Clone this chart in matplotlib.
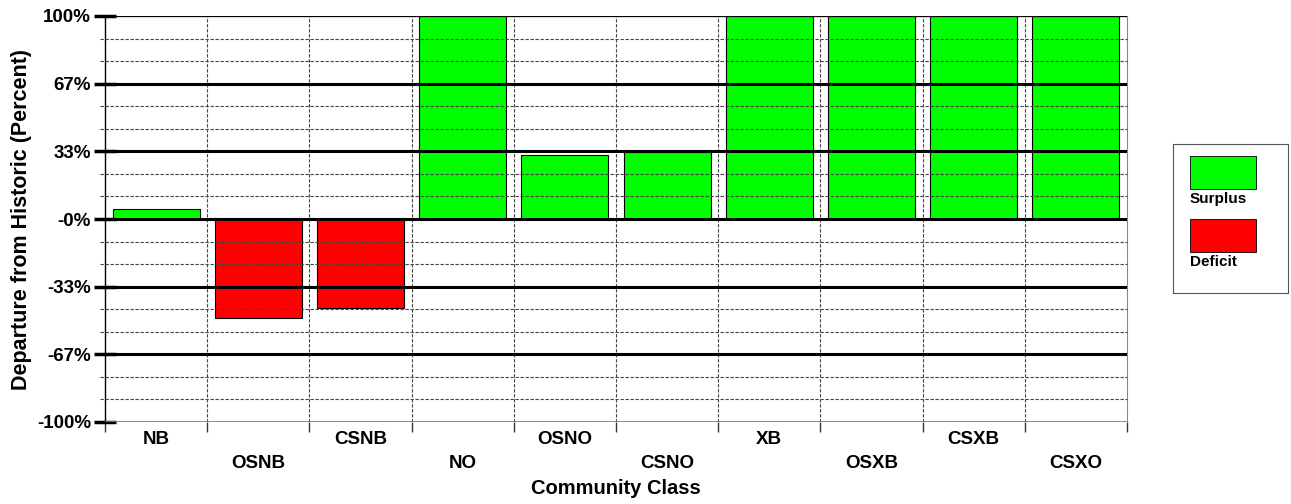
import matplotlib
matplotlib.use('Agg')
import matplotlib.pyplot as plt
import numpy as np
from matplotlib.patches import Rectangle

plt.rcParams['font.family'] = ['Liberation Sans', 'DejaVu Sans']
plt.rcParams['font.weight'] = 'bold'

# data
classes = ['NB', 'OSNB', 'CSNB', 'NO', 'OSNO', 'CSNO', 'XB', 'OSXB', 'CSXB', 'CSXO']
departure = [5, -49, -44, 100, 31.5, 33, 100, 100, 100, 100]
ytick_vals = [-100, -66.67, -33.33, 0, 33.33, 66.67, 100]
ytick_labels = ['-100%', '-67%', '-33%', '-0%', '33%', '67%', '100%']
legend_names = ['Surplus', 'Deficit']
legend_colors = ['#00ff00', '#ff0000']

fig = plt.figure(figsize=(12.91, 5.04), dpi=100)
ax = fig.add_axes([105 / 1291, 82 / 504, 1022 / 1291, 406 / 504])

x = np.arange(len(classes))
colors = [legend_colors[0] if v >= 0 else legend_colors[1] for v in departure]
ax.bar(x, departure, width=0.85, color=colors, edgecolor='black', linewidth=0.8, zorder=2)

ax.set_xlim(-0.5, len(classes) - 0.5)
ax.set_ylim(-100, 100)

# minor dashed grid lines (every 1/9 of the range)
for v in np.linspace(-100, 100, 19):
    if np.any(np.isclose(v, ytick_vals, atol=0.5)):
        continue
    ax.plot([-0.55, len(classes) - 0.5], [v, v], color='#444444', linestyle=(0, (3, 1.5)),
            linewidth=0.8, zorder=3, clip_on=False)
# major solid lines
for v in ytick_vals:
    if v == 100:
        ax.axhline(v, color='black', linewidth=0.9, zorder=4)
    elif v == -100:
        ax.axhline(v, color='#777777', linewidth=1.2, zorder=4)
    else:
        ax.axhline(v, color='black', linewidth=2.2, zorder=4)
# vertical dashed separators
for b in np.arange(0.5, len(classes) - 0.5):
    ax.axvline(b, color='#444444', linestyle=(0, (3, 1.5)), linewidth=0.8, zorder=3)

for s in ['top', 'bottom']:
    ax.spines[s].set_visible(False)
ax.spines['right'].set_color('#888888')
ax.spines['left'].set_linewidth(1.0)

ax.set_yticks(ytick_vals)
ax.set_yticklabels(ytick_labels, fontsize=13.5, fontweight='bold')
ax.tick_params(axis='y', length=16, width=2.5, direction='inout', pad=2)

ax.set_xticks(np.arange(-0.5, len(classes)))
ax.set_xticklabels([])
ax.tick_params(axis='x', length=7, width=1, direction='out', color='#333333')
for i, name in enumerate(classes):
    yoff = -0.044 if i % 2 == 0 else -0.101
    ax.text(i, yoff, name, transform=ax.get_xaxis_transform(), ha='center', va='center',
            fontsize=13.5, fontweight='bold')

ax.text(0.5, -0.163, 'Community Class', transform=ax.transAxes, ha='center', va='center',
        fontsize=14.5, fontweight='bold')
ax.set_ylabel('Departure from Historic (Percent)', fontsize=15.5, fontweight='bold')
ax.yaxis.set_label_coords(-0.071, 0.5)

# legend box
lax = fig.add_axes([1173 / 1291, 211 / 504, 115 / 1291, 149 / 504])
lax.set_xlim(0, 115)
lax.set_ylim(149, 0)
lax.set_xticks([])
lax.set_yticks([])
for s in lax.spines.values():
    s.set_color('#555555')
    s.set_linewidth(0.8)
for k, (name, c) in enumerate(zip(legend_names, legend_colors)):
    top = 12 + k * 63
    lax.add_patch(Rectangle((17, top), 66, 33, facecolor=c, edgecolor='black', linewidth=0.6))
    lax.text(17, top + 43, name, ha='left', va='center', fontsize=11, fontweight='bold')

fig.savefig('out.png', dpi=100)
